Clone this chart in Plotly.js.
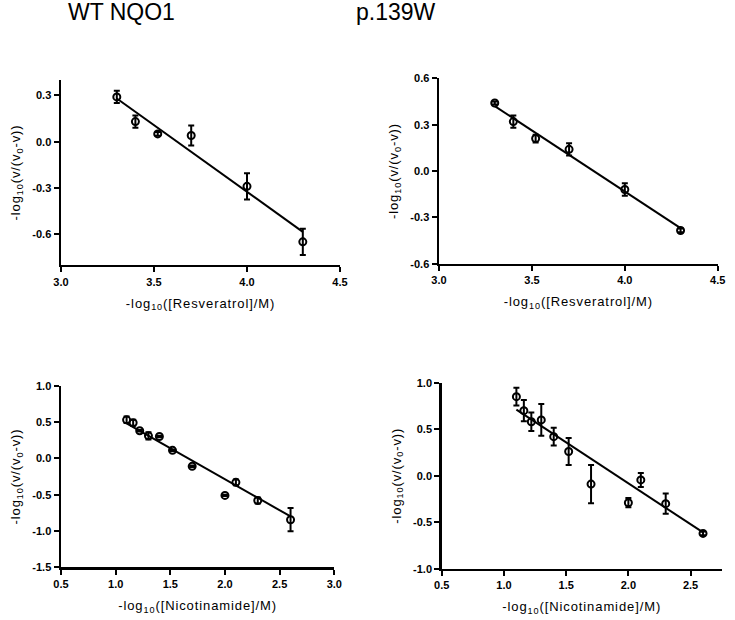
<!DOCTYPE html>
<html>
<head>
<meta charset="utf-8">
<script src="https://cdn.plot.ly/plotly-3.0.1.min.js"></script>
<style>
html,body{margin:0;padding:0;background:#fff;}
#chart{width:735px;height:620px;}
.xtitle,.x2title,.x3title,.x4title,.ytitle,.y2title,.y3title,.y4title{letter-spacing:0.9px;}
</style>
</head>
<body>
<div id="chart"></div>
<script>
// Panel titles
const colTitles = ["WT NQO1", "p.139W"];

// WT NQO1 - Resveratrol
const wtResX = [3.30, 3.40, 3.52, 3.70, 4.00, 4.30];
const wtResY = [0.29, 0.13, 0.05, 0.04, -0.29, -0.65];
const wtResErr = [0.04, 0.04, 0.012, 0.065, 0.085, 0.085];
const wtResFitX = [3.30, 4.30];
const wtResFitY = [0.28, -0.585];

// p.139W - Resveratrol
const mutResX = [3.30, 3.40, 3.52, 3.70, 4.00, 4.30];
const mutResY = [0.44, 0.32, 0.21, 0.14, -0.12, -0.385];
const mutResErr = [0.01, 0.04, 0.025, 0.04, 0.04, 0.012];
const mutResFitX = [3.30, 4.30];
const mutResFitY = [0.42, -0.37];

// WT NQO1 - Nicotinamide
const wtNicX = [1.10, 1.16, 1.22, 1.30, 1.40, 1.52, 1.70, 2.00, 2.10, 2.30, 2.60];
const wtNicY = [0.53, 0.49, 0.38, 0.31, 0.30, 0.11, -0.11, -0.51, -0.33, -0.58, -0.845];
const wtNicErr = [0.045, 0.04, 0.01, 0.05, 0.01, 0.01, 0.01, 0.01, 0.04, 0.04, 0.16];
const wtNicFitX = [1.10, 2.60];
const wtNicFitY = [0.48, -0.80];

// p.139W - Nicotinamide
const mutNicX = [1.10, 1.16, 1.22, 1.30, 1.40, 1.52, 1.70, 2.00, 2.10, 2.30, 2.60];
const mutNicY = [0.85, 0.70, 0.58, 0.60, 0.42, 0.26, -0.09, -0.29, -0.045, -0.30, -0.62];
const mutNicErr = [0.095, 0.115, 0.10, 0.17, 0.095, 0.145, 0.205, 0.05, 0.075, 0.11, 0.02];
const mutNicFitX = [1.10, 2.60];
const mutNicFitY = [0.71, -0.61];

// Axis settings
const resXTicks = [3.0, 3.5, 4.0, 4.5];
const nicXTicksWT = [0.5, 1.0, 1.5, 2.0, 2.5, 3.0];
const nicXTicksMut = [0.5, 1.0, 1.5, 2.0, 2.5];
const yTicks1 = [-0.6, -0.3, 0.0, 0.3];
const yTicks2 = [-0.6, -0.3, 0.0, 0.3, 0.6];
const yTicks3 = [-1.5, -1.0, -0.5, 0.0, 0.5, 1.0];
const yTicks4 = [-1.0, -0.5, 0.0, 0.5, 1.0];

const xTitleRes = "-log<sub>10</sub>([Resveratrol]/M)";
const xTitleNic = "-log<sub>10</sub>([Nicotinamide]/M)";
const yTitle = "-log<sub>10</sub>(v/(v<sub>0</sub>-v))";

function pts(x, y, err, xa, ya) {
  return {
    x: x, y: y, xaxis: xa, yaxis: ya, type: 'scatter', mode: 'markers',
    marker: {symbol: 'circle-open', size: 7, color: '#000', line: {width: 2, color: '#000'}},
    error_y: {type: 'data', array: err, visible: true, color: '#000', thickness: 2, width: 3},
    showlegend: false, hoverinfo: 'skip'
  };
}
function fit(x, y, xa, ya) {
  return {x: x, y: y, xaxis: xa, yaxis: ya, type: 'scatter', mode: 'lines',
    line: {color: '#000', width: 2}, showlegend: false, hoverinfo: 'skip'};
}

const data = [
  fit(wtResFitX, wtResFitY, 'x', 'y'), pts(wtResX, wtResY, wtResErr, 'x', 'y'),
  fit(mutResFitX, mutResFitY, 'x2', 'y2'), pts(mutResX, mutResY, mutResErr, 'x2', 'y2'),
  fit(wtNicFitX, wtNicFitY, 'x3', 'y3'), pts(wtNicX, wtNicY, wtNicErr, 'x3', 'y3'),
  fit(mutNicFitX, mutNicFitY, 'x4', 'y4'), pts(mutNicX, mutNicY, mutNicErr, 'x4', 'y4')
];

const tickFont = {family: 'Liberation Sans, Arial, sans-serif', size: 11, color: '#000', weight: 'bold'};
const titleFont = {family: 'Liberation Sans, Arial, sans-serif', size: 13, color: '#000'};

function xax(domain, range, ticks, anchor, title) {
  return {domain: domain, range: range, anchor: anchor, tickvals: ticks,
    ticktext: ticks.map(v => v.toFixed(1)), showgrid: false, zeroline: false,
    showline: true, linecolor: '#000', linewidth: 2.5, ticks: 'outside', ticklen: 5,
    tickwidth: 2, tickcolor: '#000', tickfont: tickFont,
    title: {text: title, font: titleFont, standoff: 12}, fixedrange: true};
}
function yax(domain, range, ticks, anchor) {
  return {domain: domain, range: range, anchor: anchor, tickvals: ticks,
    ticktext: ticks.map(v => v.toFixed(1)), showgrid: false, zeroline: false,
    showline: true, linecolor: '#000', linewidth: 2.5, ticks: 'outside', ticklen: 5,
    tickwidth: 2, tickcolor: '#000', tickfont: tickFont,
    title: {text: yTitle, font: titleFont, standoff: 9}, fixedrange: true};
}

const headFont = {family: 'Liberation Sans, Arial, sans-serif', size: 23, color: '#000'};

const layout = {
  width: 735, height: 620,
  margin: {l: 0, r: 0, t: 0, b: 0},
  paper_bgcolor: '#fff', plot_bgcolor: '#fff',
  showlegend: false,
  xaxis: xax([0.0830, 0.4626], [3.0, 4.5], resXTicks, 'y', xTitleRes),
  yaxis: yax([0.5726, 0.8710], [-0.8, 0.4], yTicks1, 'x'),
  xaxis2: xax([0.5973, 0.9765], [3.0, 4.5], resXTicks, 'y2', xTitleRes),
  yaxis2: yax([0.5747, 0.8737], [-0.6, 0.6], yTicks2, 'x2'),
  xaxis3: xax([0.0830, 0.4548], [0.5, 3.0], nicXTicksWT, 'y3', xTitleNic),
  yaxis3: yax([0.0850, 0.3779], [-1.5, 1.0], yTicks3, 'x3'),
  xaxis4: xax([0.6010, 0.9819], [0.5, 2.75], nicXTicksMut, 'y4', xTitleNic),
  yaxis4: yax([0.0827, 0.3827], [-1.0, 1.0], yTicks4, 'x4'),
  annotations: [
    {text: colTitles[0], x: 121 / 735, y: 1, xref: 'paper', yref: 'paper', yshift: 3,
     xanchor: 'center', yanchor: 'top', showarrow: false, font: headFont},
    {text: colTitles[1], x: 396 / 735, y: 1, xref: 'paper', yref: 'paper', yshift: 3,
     xanchor: 'center', yanchor: 'top', showarrow: false, font: headFont}
  ]
};

Plotly.newPlot('chart', data, layout, {staticPlot: true, displayModeBar: false});
</script>
</body>
</html>
